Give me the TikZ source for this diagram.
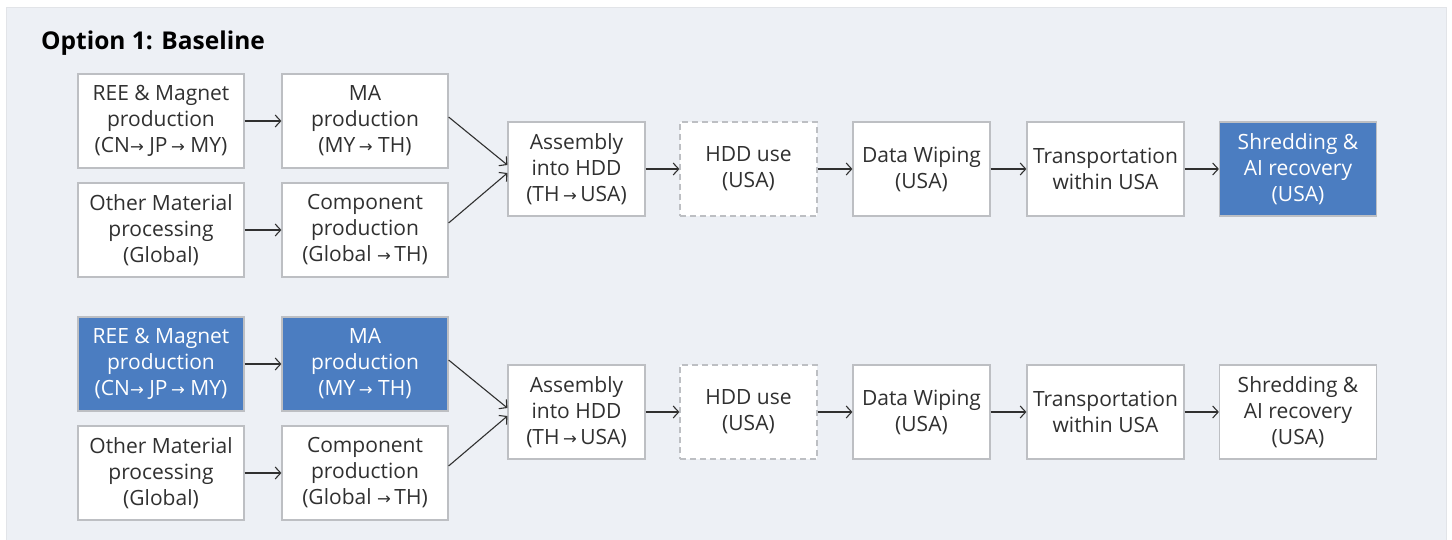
\documentclass[tikz,border=0pt]{standalone}
\usepackage{fontspec}
\setmainfont{Open Sans}
\newfontfamily\arwfont{DejaVu Sans}
\usetikzlibrary{arrows.meta}
\definecolor{panel}{HTML}{EDF0F5}
\definecolor{panelline}{HTML}{E2E4E8}
\definecolor{boxline}{HTML}{BDBFC3}
\definecolor{blu}{HTML}{4B7DC1}
\definecolor{txt}{HTML}{303030}
\newcommand{\ar}{{\arwfont\fontsize{16.5}{26}\selectfont →}}
\begin{document}
\begin{tikzpicture}[x=1pt,y=-1pt,
  box/.style={draw=boxline,line width=1.2pt,fill=white,text=txt,align=center,
    font=\fontsize{21}{26}\selectfont,inner sep=0pt,minimum height=94pt},
  wa/.style={minimum width=166pt},
  wb/.style={minimum width=137pt},
  wc/.style={minimum width=157pt},
  hl/.style={fill=blu,text=white},
  dsh/.style={dash pattern=on 6pt off 4pt},
  arr/.style={draw=txt,line width=1.1pt,-{Straight Barb[length=5.5pt,width=12pt,line width=1.1pt]}}
]
\useasboundingbox (0,0) rectangle (1452,540);
\fill[white] (0,0) rectangle (1452,540);
\draw[fill=panel,draw=panelline,line width=1pt] (6,8) rectangle (1446,545);
\node[anchor=base west,text=black,font=\fontsize{24.5}{26}\selectfont\bfseries,inner sep=0pt] (title) at (41,50) {Option 1: Baseline};

% Row 1
\node[box,wa] (ree1) at (161,121) {REE \& Magnet\\production\\(CN\ar\ JP\,\ar\ MY)};
\node[box,wa] (ma1) at (365,121) {MA\\production\\(MY\,\ar\ TH)};
\node[box,wa] (oth1) at (161,230) {Other Material\\processing\\(Global)};
\node[box,wa] (com1) at (365,230) {Component\\production\\(Global \ar\,TH)};
\node[box,wb] (asm1) at (576.5,169) {Assembly\\into HDD\\(TH\,\ar\,USA)};
\node[box,wb,dsh] (hdd1) at (748.5,169) {HDD use\\(USA)};
\node[box,wb] (dw1) at (921.5,169) {Data Wiping\\(USA)};
\node[box,wc] (tr1) at (1105.5,169) {Transportation\\within USA};
\node[box,wc,hl] (sh1) at (1298,169) {Shredding \&\\AI recovery\\(USA)};

\draw[arr] (ree1.east) -- (ma1.west);
\draw[arr] (oth1.east) -- (com1.west);
\draw[arr] ([yshift=4pt]ma1.east) -- ([yshift=4pt]asm1.west);
\draw[arr] ([yshift=7pt]com1.east) -- ([yshift=-4pt]asm1.west);
\draw[arr] (asm1) -- (hdd1);
\draw[arr] (hdd1) -- (dw1);
\draw[arr] (dw1) -- (tr1);
\draw[arr] (tr1) -- (sh1);

% Row 2
\node[box,wa,hl] (ree2) at (161,364) {REE \& Magnet\\production\\(CN\ar\ JP\,\ar\ MY)};
\node[box,wa,hl] (ma2) at (365,364) {MA\\production\\(MY\,\ar\ TH)};
\node[box,wa] (oth2) at (161,473) {Other Material\\processing\\(Global)};
\node[box,wa] (com2) at (365,473) {Component\\production\\(Global \ar\,TH)};
\node[box,wb] (asm2) at (576.5,412) {Assembly\\into HDD\\(TH\,\ar\,USA)};
\node[box,wb,dsh] (hdd2) at (748.5,412) {HDD use\\(USA)};
\node[box,wb] (dw2) at (921.5,412) {Data Wiping\\(USA)};
\node[box,wc] (tr2) at (1105.5,412) {Transportation\\within USA};
\node[box,wc] (sh2) at (1298,412) {Shredding \&\\AI recovery\\(USA)};

\draw[arr] (ree2.east) -- (ma2.west);
\draw[arr] (oth2.east) -- (com2.west);
\draw[arr] ([yshift=4pt]ma2.east) -- ([yshift=4pt]asm2.west);
\draw[arr] ([yshift=7pt]com2.east) -- ([yshift=-4pt]asm2.west);
\draw[arr] (asm2) -- (hdd2);
\draw[arr] (hdd2) -- (dw2);
\draw[arr] (dw2) -- (tr2);
\draw[arr] (tr2) -- (sh2);
\end{tikzpicture}
\end{document}
